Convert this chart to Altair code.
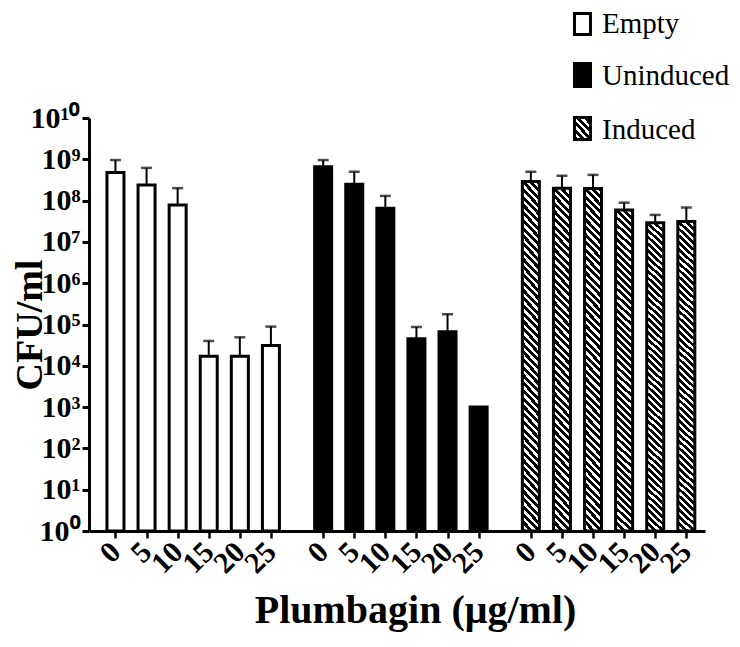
import json
import altair as alt
import pandas as pd

# ---------------- data ----------------
groups = ["Empty", "Uninduced", "Induced"]
doses = ["0", "5", "10", "15", "20", "25"]
empty_vals = [4.8e8, 2.4e8, 7.8e7, 1.7e4, 1.7e4, 3.1e4]
empty_upper = [9.6e8, 6.2e8, 2.0e8, 4.0e4, 4.9e4, 8.9e4]
unind_vals = [6.6e8, 2.5e8, 6.5e7, 4.5e4, 6.7e4, 1.0e3]
unind_upper = [9.6e8, 5.0e8, 1.3e8, 8.7e4, 1.77e5, None]
ind_vals = [2.9e8, 2.0e8, 1.95e8, 5.9e7, 2.9e7, 3.1e7]
ind_upper = [5.0e8, 4.0e8, 4.2e8, 8.9e7, 4.5e7, 6.8e7]
y_ticks = [10 ** k for k in range(11)]
y_exps = ["⁰", "¹", "²", "³", "⁴", "⁵", "⁶", "⁷", "⁸", "⁹", "¹⁰"]

# ---------------- layout ----------------
W, H = 616, 413
GROUP_STEP = 6.68
X_DOMAIN = [-0.69, 18.8]
FONT = "Liberation Serif"

vals = [empty_vals, unind_vals, ind_vals]
uppers = [empty_upper, unind_upper, ind_upper]
rows = []
for gi, g in enumerate(groups):
    for di, d in enumerate(doses):
        rows.append({"group": g, "dose": d, "pos": gi * GROUP_STEP + di,
                     "value": vals[gi][di], "upper": uppers[gi][di]})
df = pd.DataFrame(rows)
tick_pos = [gi * GROUP_STEP + di for gi in range(len(groups)) for di in range(len(doses))]


def hatch(w, h, period=7.3, black=0.55):
    k = (w + h) / (w * w + h * h)
    step = period / (w + h)
    stops = []
    t = 0.0
    while t < 1 - 1e-9:
        t2 = min(t + step * black, 1.0)
        t3 = min(t + step, 1.0)
        stops += [{"offset": round(t, 5), "color": "black"},
                  {"offset": round(t2, 5), "color": "black"},
                  {"offset": round(t2, 5), "color": "white"},
                  {"offset": round(t3, 5), "color": "white"}]
        t += step
    return {"gradient": "linear", "x1": 0, "y1": 1,
            "x2": round(k * w, 5), "y2": round(1 - k * h, 5), "stops": stops}


x_label_expr = "%s[round(datum.value - %s*floor((datum.value + 0.5)/%s))]" % (
    json.dumps(doses), GROUP_STEP, GROUP_STEP)
y_label_expr = "'10' + %s[round(log(datum.value)/LN10)]" % json.dumps(y_exps, ensure_ascii=False)

x_enc = alt.X("pos:Q",
              scale=alt.Scale(domain=X_DOMAIN, nice=False, zero=False),
              axis=alt.Axis(values=tick_pos, labelExpr=x_label_expr, labelAngle=315,
                            labelAlign="right", labelBaseline="middle",
                            labelFont=FONT, labelFontSize=30, labelFontWeight="bold",
                            labelColor="black", labelPadding=9, labelFlush=False,
                            labelOverlap=False, labelBound=False,
                            tickSize=7, tickWidth=2.5, tickColor="black",
                            domainWidth=3, domainColor="black", grid=False, zindex=1,
                            title="Plumbagin (μg/ml)", titleFont=FONT, titleFontSize=40,
                            titleFontWeight="bold", titleColor="black",
                            titleX=326, titleY=91, titleAlign="center",
                            titleBaseline="alphabetic"))
y_enc = alt.Y("value:Q",
              scale=alt.Scale(type="log", domain=[1, 1e10], nice=False),
              axis=alt.Axis(values=y_ticks, labelExpr=y_label_expr,
                            labelFont=FONT, labelFontSize=30, labelFontWeight="bold",
                            labelColor="black", labelPadding=2, labelFlush=False,
                            labelOverlap=False, labelBound=False,
                            tickSize=7, tickWidth=3, tickColor="black",
                            domainWidth=3, domainColor="black", grid=False, zindex=1,
                            title="CFU/ml", titleFont=FONT, titleFontSize=38,
                            titleFontWeight="bold", titleColor="black",
                            titleAngle=270, titleX=-48, titleY=H / 2,
                            titleAlign="center", titleBaseline="alphabetic"))

base = alt.Chart(df)

err_rule = base.transform_filter("isValid(datum.upper)").mark_rule(
    color="black", strokeWidth=2).encode(x=x_enc, y=y_enc, y2="upper:Q")
err_cap = base.transform_filter("isValid(datum.upper)").mark_tick(
    orient="horizontal", size=11, thickness=2.5, color="black").encode(
    x=x_enc, y=alt.Y("upper:Q"))

BAR = dict(size=17, stroke="black", strokeWidth=3)
bar_empty = base.transform_filter(alt.datum.group == groups[0]).mark_bar(
    fill="white", **BAR).encode(x=x_enc, y=y_enc, y2=alt.datum(1))
bar_unind = base.transform_filter(alt.datum.group == groups[1]).mark_bar(
    fill="black", **BAR).encode(x=x_enc, y=y_enc, y2=alt.datum(1))
bar_ind = base.transform_filter(alt.datum.group == groups[2]).mark_bar(
    fill=hatch(17, 330), **BAR).encode(x=x_enc, y=y_enc, y2=alt.datum(1))

# ---------------- legend ----------------
LEG_X0, LEG_X1, LEG_TX = 485.5, 501.5, 513
leg_rows = [(-104.5, -83.5, -85), (-54.5, -31.5, -33), (-0.5, 21.5, 21)]
leg_fills = ["white", "black", hatch(16, 21)]
legend_layers = []
for (y0, y1, ty), fill, label in zip(leg_rows, leg_fills, groups):
    d = pd.DataFrame({"label": [label]})
    legend_layers.append(alt.Chart(d).mark_rect(fill=fill, stroke="black", strokeWidth=3).encode(
        x=alt.value(LEG_X0), x2=alt.value(LEG_X1), y=alt.value(y0), y2=alt.value(y1)))
    legend_layers.append(alt.Chart(d).mark_text(
        align="left", baseline="alphabetic", font=FONT, fontSize=29, color="black").encode(
        x=alt.value(LEG_TX), y=alt.value(ty), text="label:N"))

chart = alt.layer(err_rule, err_cap, bar_empty, bar_unind, bar_ind, *legend_layers).properties(
    width=W, height=H,
    autosize=alt.AutoSizeParams(type="none"),
    padding={"left": 81, "top": 110, "right": 27, "bottom": 105},
    background="white",
).configure_view(stroke=None)

chart.save("out.html", embed_options={"renderer": "svg", "actions": False})
